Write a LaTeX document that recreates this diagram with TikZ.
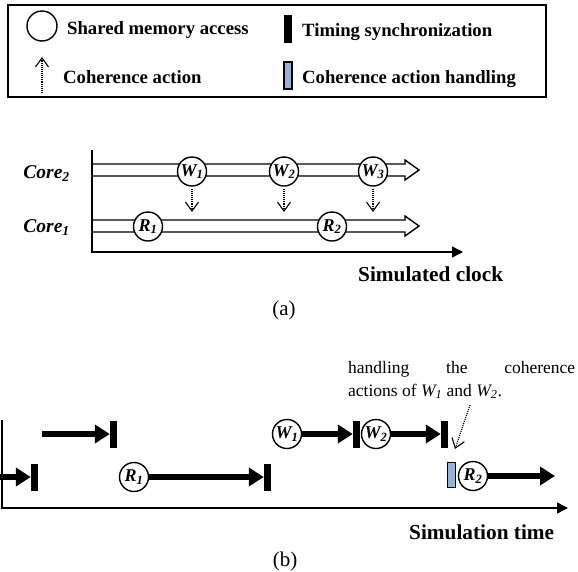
\documentclass[tikz,border=0pt]{standalone}
\usepackage{fontspec}
\setmainfont{Liberation Serif}
\usetikzlibrary{arrows.meta}
\definecolor{hblue}{RGB}{149,179,215}
\begin{document}
\begin{tikzpicture}[x=1pt,y=-1pt,
  acc/.style={circle,draw,line width=1.4pt,fill=white,minimum size=29pt,inner sep=0pt,
    font=\fontsize{18}{18}\selectfont\bfseries\itshape},
  syncbar/.style={rectangle,fill=black,draw=none,minimum width=7pt,minimum height=27pt,inner sep=0pt},
  hbar/.style={rectangle,fill=hblue,draw=black,line width=1.2pt,minimum width=8pt,minimum height=25pt,inner sep=0pt},
  lbl/.style={inner sep=0pt,font=\fontsize{18.7}{20}\selectfont\bfseries},
  big/.style={inner sep=0pt,font=\fontsize{21.3}{23}\selectfont\bfseries},
  captxt/.style={inner sep=0pt,font=\fontsize{21}{23}\selectfont},
  corelbl/.style={inner sep=0pt,font=\fontsize{19.5}{21}\selectfont\bfseries\itshape},
  coh/.style={densely dotted,line width=1.1pt,-{Straight Barb[length=9pt,width=13pt,line width=1.1pt]}},
  band/.style={line width=1.4pt,line join=miter},
  axis/.style={line width=1.5pt},
  thick arrow/.style={line width=5.5pt,-{Triangle[length=15pt,width=18pt]}},
]
\useasboundingbox (0,0) rectangle (578,571);

% ---------- legend ----------
\draw[line width=1.8pt] (8,5) rectangle (546,97);
\node[acc,minimum size=30pt] (lc) at (42,26) {};
\node[lbl,anchor=base west] (l1) at (67,34) {Shared memory access};
\node[syncbar,minimum width=8pt,minimum height=28pt] (lb) at (288,29) {};
\node[lbl,anchor=base west] (l2) at (302,36) {Timing synchronization};
\coordinate (la0) at (42,93);
\coordinate (la1) at (42,57);
\draw[coh] (la0) -- (la1);
\node[lbl,anchor=base west] (l3) at (63,83) {Coherence action};
\node[hbar,minimum height=27pt] (lh) at (288,75.5) {};
\node[lbl,anchor=base west] (l4) at (302,83) {Coherence action handling};

% ---------- (a) ----------
\coordinate (ay) at (92,150);
\coordinate (ao) at (92,252);
\coordinate (ax) at (463,252);
\draw[axis,-{Triangle[length=11pt,width=11pt]}] (ay) -- (ao) -- (ax);

\coordinate (c2a) at (92,170);
\coordinate (c2b) at (419,170);
\draw[band] (c2a) ++(0,-6) -- ++(313,0) -- ++(0,-4) -- (c2b) -- ++(-14,10) -- ++(0,-4) -- ++(-313,0);
\coordinate (c1a) at (92,226);
\coordinate (c1b) at (419,226);
\draw[band] (c1a) ++(0,-6) -- ++(313,0) -- ++(0,-4) -- (c1b) -- ++(-14,10) -- ++(0,-4) -- ++(-313,0);

\node[corelbl,anchor=base east] (core2) at (70,178) {Core\textsubscript{2}};
\node[corelbl,anchor=base east] (core1) at (70,232) {Core\textsubscript{1}};

\node[acc] (aw1) at (192,171.5) {W\textsubscript{1}};
\node[acc] (aw2) at (284,171.5) {W\textsubscript{2}};
\node[acc] (aw3) at (373,171.5) {W\textsubscript{3}};
\node[acc] (ar1) at (148,226.5) {R\textsubscript{1}};
\node[acc] (ar2) at (332,226.5) {R\textsubscript{2}};

\coordinate (d1) at (192,212);
\coordinate (d2) at (284,212);
\coordinate (d3) at (373,212);
\draw[coh,shorten <=2pt] (aw1) -- (d1);
\draw[coh,shorten <=2pt] (aw2) -- (d2);
\draw[coh,shorten <=2pt] (aw3) -- (d3);

\node[big,anchor=base west] (simclk) at (358,281) {Simulated clock};
\node[captxt] (capa) at (284,310) {(a)};

% ---------- (b) ----------
\coordinate (by) at (2,420);
\coordinate (bo) at (2,508);
\coordinate (bx) at (568,508);
\draw[axis,-{Triangle[length=11pt,width=11pt]}] (by) -- (bo) -- (bx);

% upper row (y = 434)
\coordinate (u0) at (42,434);
\node[syncbar] (ub1) at (113.5,434) {};
\node[acc] (bw1) at (287,434) {W\textsubscript{1}};
\node[syncbar] (ub2) at (356.5,434) {};
\node[acc] (bw2) at (376,434) {W\textsubscript{2}};
\node[syncbar] (ub3) at (444.5,434) {};
\draw[thick arrow] (u0) -- (ub1.west);
\draw[thick arrow] (bw1) -- (ub2.west);
\draw[thick arrow] (bw2) -- (ub3.west);

% lower row (y = 477)
\coordinate (v0) at (0,477);
\node[syncbar] (lb1) at (34.5,477) {};
\node[acc] (br1) at (134,477) {R\textsubscript{1}};
\node[syncbar] (lb2) at (267.5,477) {};
\node[hbar] (hb) at (451.5,475) {};
\node[acc] (br2) at (473,476) {R\textsubscript{2}};
\coordinate (v1) at (555,476);
\draw[thick arrow] (v0) -- (lb1.west);
\draw[thick arrow] (br1) -- (lb2.west);
\draw[thick arrow] (br2) -- (v1);

% annotation
\node[inner sep=0pt,anchor=base west,font=\fontsize{17.5}{23}\selectfont] (n1) at (348,373)
  {\hbox to 227pt{handling\hfill the\hfill coherence}};
\node[inner sep=0pt,anchor=base west,font=\fontsize{17.5}{23}\selectfont] (n2) at (348,396)
  {actions of \textit{W\textsubscript{1}} and \textit{W\textsubscript{2}}.};
\coordinate (nf) at (470,405);
\coordinate (nt) at (455,449);
\draw[coh] (nf) -- (nt);

\node[big,anchor=base west] (simtime) at (409,539) {Simulation time};
\node[captxt] (capb) at (285,561) {(b)};
\end{tikzpicture}
\end{document}
